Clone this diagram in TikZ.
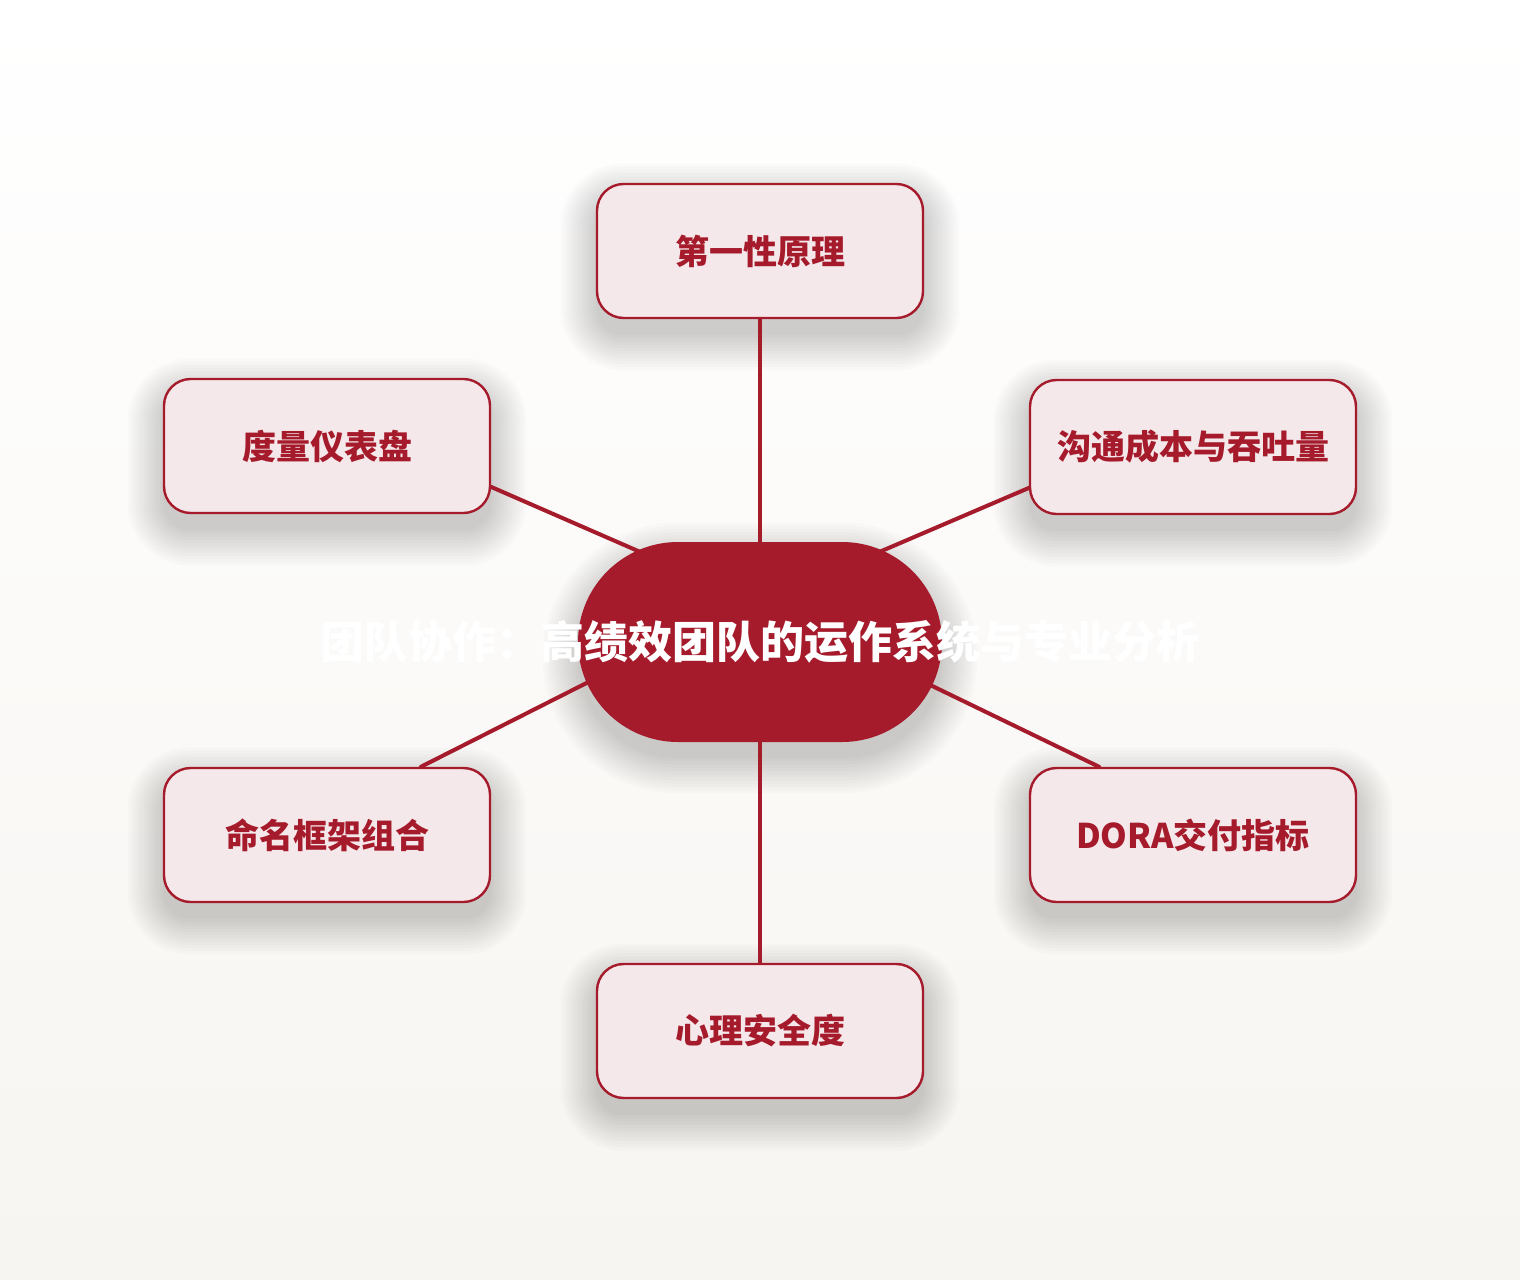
\documentclass[tikz,border=0pt]{standalone}
\usepackage{fontspec}
\newfontfamily\cjk{Noto Sans CJK SC}
\usetikzlibrary{backgrounds}
\definecolor{deepred}{HTML}{A51B2B}
\definecolor{blush}{HTML}{F5E8EB}
\definecolor{paper}{HTML}{F7F5F1}
% soft shadow under a node: #1 node, #2 corner radius
\newcommand\backglow[2]{%
  \foreach \s in {0,...,11}
    \fill [black, opacity=0.014, rounded corners={#2+\s*2.4pt}]
      ([xshift=-\s*2.4pt, yshift=-12pt+\s*2.4pt]#1.north west) rectangle ([xshift=\s*2.4pt, yshift=-12pt-\s*2.4pt]#1.south east);}

\begin{document}
\begin{tikzpicture}[x=0.75pt, y=-0.75pt]
        \tikzstyle{every node}=[font=\cjk\bfseries\fontsize{25.5pt}{30pt}\selectfont]
        \tikzstyle{core}=[fill=deepred, text=white, minimum width=273pt, minimum height=150pt, rounded corners=75pt, font=\cjk\bfseries\fontsize{33pt}{40pt}\selectfont]
        \tikzstyle{topic}=[draw=deepred, line width=1.8pt, fill=blush, text=deepred, minimum width=244.5pt, minimum height=100.5pt, rounded corners=20pt]
        \tikzstyle{link}=[draw=deepred, line width=3pt, line cap=round, shorten <=-25pt]
        \node [core] (core) at (760,642) {\makebox[0pt]{团队协作：高绩效团队的运作系统与专业分析}};
        \node [topic] (first) at (760,251) {第一性原理};
        \node [topic] (comm) at (1193,447) {沟通成本与吞吐量};
        \node [topic] (dora) at (1193,835) {DORA交付指标};
        \node [topic] (safety) at (760,1031) {心理安全度};
        \node [topic] (naming) at (327,835) {命名框架组合};
        \node [topic] (dash) at (327,446) {度量仪表盘};
        \begin{scope}[on background layer]
        \fill [top color=white, bottom color=paper] (0,0) rectangle (1520,1280);
        \backglow{core}{75pt}
        \foreach \n in {first,comm,dora,safety,naming,dash}
          \backglow{\n}{20pt}
        \draw [link] (core.north) -- (first.south);
        \draw [link] (core.35) -- (comm.194);
        \draw [link] (core.-15) -- (dora.144);
        \draw [link] (core.south) -- (safety.north);
        \draw [link] (core.194) -- (naming.36);
        \draw [link] (core.145) -- (dash.-14);
        \end{scope}
    \end{tikzpicture}
\end{document}
